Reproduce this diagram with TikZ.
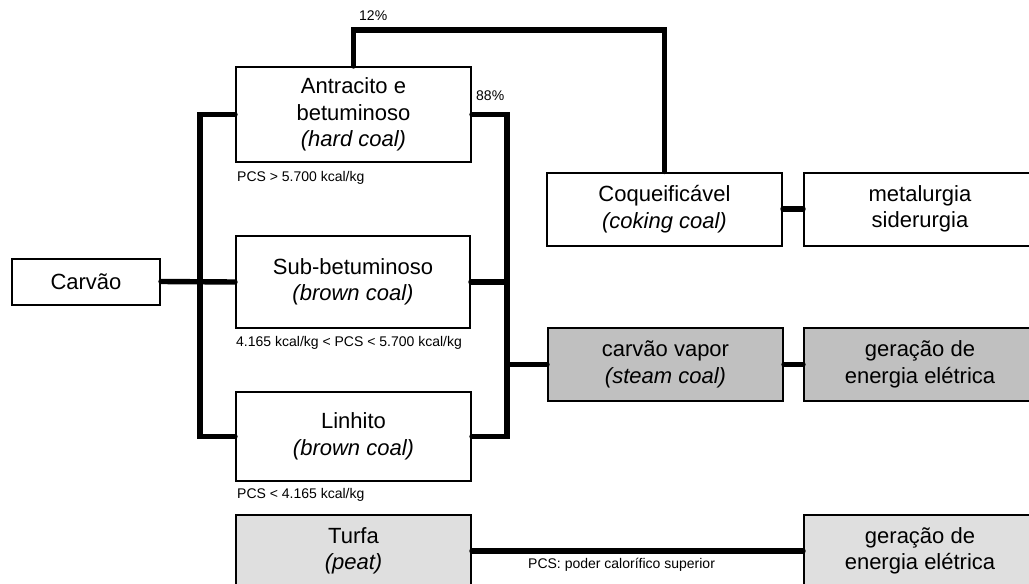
\documentclass[tikz,border=0pt]{standalone}
\usepackage{fontspec}
\setmainfont{Liberation Sans}
\definecolor{vaporgray}{HTML}{C0C0C0}
\definecolor{peatgray}{HTML}{DFDFDF}
\tikzset{
  box/.style={draw, line width=2pt, inner sep=0pt, align=center,
    font=\fontsize{22}{26.5}\selectfont},
  link/.style={line width=5.4pt, line cap=round},
  note/.style={anchor=west, inner sep=0pt, font=\fontsize{14}{16}\selectfont}
}

\begin{document}
\begin{tikzpicture}[x=1pt, y=-1pt]
  \useasboundingbox (0,0) rectangle (1029,584);
  \coordinate (lbus) at (200,0);
  \coordinate (rbus) at (507,0);
  \coordinate (top) at (0,30);

  % coal ranks
  \node[box, minimum width=148, minimum height=46] (carvao) at (86,281.5) {Carvão};
  \node[box, minimum width=235, minimum height=95] (antracito) at (353.5,114.5)
    {Antracito e\\betuminoso\\\textit{(hard coal)}};
  \node[box, minimum width=234, minimum height=92] (sub) at (353,282)
    {Sub-betuminoso\\\textit{(brown coal)}};
  \node[box, minimum width=235, minimum height=89] (linhito) at (353.5,436.5)
    {Linhito\\\textit{(brown coal)}};
  \node[box, fill=peatgray, minimum width=235, minimum height=72] (turfa) at (353.5,551)
    {Turfa\\\textit{(peat)}};

  % uses
  \node[box, minimum width=235, minimum height=73] (coque) at (664.5,209)
    {Coqueificável\\\textit{(coking coal)}};
  \node[box, minimum width=232, minimum height=73] (metal) at (920,209)
    {metalurgia\\siderurgia};
  \node[box, fill=vaporgray, minimum width=235, minimum height=73] (vapor) at (665.5,364.5)
    {carvão vapor\\\textit{(steam coal)}};
  \node[box, fill=vaporgray, minimum width=232, minimum height=73] (gera1) at (920,364.5)
    {geração de\\energia elétrica};
  \node[box, fill=peatgray, minimum width=232, minimum height=72] (gera2) at (920,551)
    {geração de\\energia elétrica};

  % PCS notes
  \node[note] (n12) at (359,16) {12\%};
  \node[note] (n88) at (476,96) {88\%};
  \node[note] (pcs1) at (237,178) {PCS > 5.700 kcal/kg};
  \node[note] (pcs2) at (236,343) {4.165 kcal/kg < PCS < 5.700 kcal/kg};
  \node[note] (pcs3) at (237,495) {PCS < 4.165 kcal/kg};
  \node[note] (pcs) at (528,565) {PCS: poder calorífico superior};

  \draw[link] (antracito.west) -- (antracito.west -| lbus) |- (linhito.west);
  \draw[link] (carvao.east) -- (sub.west);
  \draw[link] (antracito.east) -- (antracito.east -| rbus) |- (linhito.east);
  \draw[link] (sub.east) -- (sub.east -| rbus);
  \draw[link] (vapor.west -| rbus) -- (vapor.west);
  \draw[link] (antracito.north) -- (antracito.north |- top) -| (coque.north);
  \draw[link] (coque.east) -- (metal.west);
  \draw[link] (vapor.east) -- (gera1.west);
  \draw[link] (turfa.east) -- (gera2.west);
\end{tikzpicture}
\end{document}
